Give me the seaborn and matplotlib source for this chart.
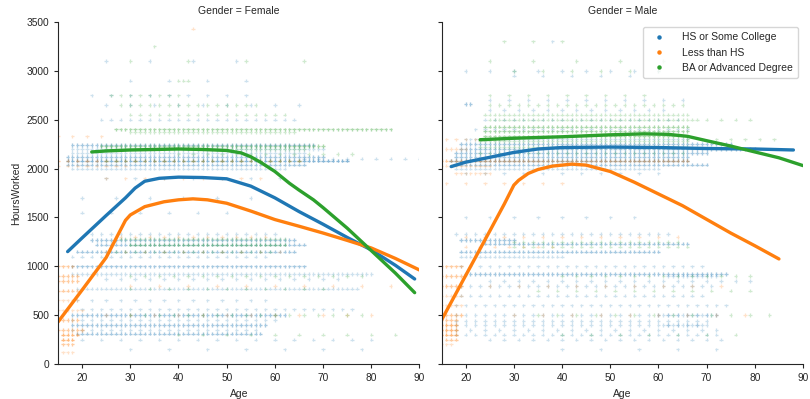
import numpy as np
import pandas as pd
import matplotlib
matplotlib.use("Agg")
import matplotlib.pyplot as plt
from matplotlib.lines import Line2D
import seaborn as sns

# ---------------- data ----------------
genders = ["Female", "Male"]
educations = ["HS or Some College", "Less than HS", "BA or Advanced Degree"]
palette = ["#1f77b4", "#ff7f0e", "#2ca02c"]

# scatter bands: (hours, first age, last age, age step, stacked copies)
f_hs_bands = [
    (3100, 25, 60, 9, 1), (2900, 30, 55, 8, 1), (2750, 22, 56, 4, 1), (2650, 25, 66, 5, 1),
    (2500, 24, 64, 2, 1), (2240, 18, 68, 1, 2), (2200, 18, 70, 1, 1), (2160, 18, 66, 1, 1),
    (2120, 17, 70, 1, 2), (2080, 17, 75, 1, 3), (2040, 17, 66, 1, 2), (2000, 18, 62, 1, 1),
    (2100, 66, 90, 3, 1), (1900, 25, 65, 6, 1), (1700, 20, 60, 7, 1), (1550, 20, 60, 6, 1),
    (1330, 22, 60, 2, 1), (1270, 22, 64, 1, 2), (1220, 23, 66, 1, 2), (1150, 19, 64, 1, 2),
    (1100, 18, 58, 2, 1), (1000, 18, 66, 1, 2), (920, 18, 80, 1, 1), (870, 25, 75, 3, 1),
    (770, 19, 77, 1, 1), (650, 19, 60, 3, 1), (560, 20, 76, 2, 1), (500, 18, 62, 1, 2),
    (450, 18, 60, 2, 1), (400, 18, 58, 1, 2), (350, 18, 56, 2, 1), (310, 19, 57, 1, 2),
    (250, 20, 80, 4, 1), (150, 30, 85, 8, 1),
]
f_lhs_bands = [
    (2330, 15, 25, 3, 1), (2080, 15, 66, 2, 2), (2030, 15, 30, 2, 1), (1900, 25, 60, 4, 1),
    (1300, 28, 60, 3, 1), (1150, 25, 62, 4, 1), (1000, 15, 18, 1, 2), (900, 15, 19, 1, 2),
    (850, 15, 19, 1, 2), (750, 15, 19, 1, 2), (650, 15, 19, 1, 1), (550, 15, 20, 1, 1),
    (450, 15, 19, 1, 2), (350, 15, 20, 1, 2), (300, 16, 19, 1, 3), (250, 16, 18, 1, 3),
    (200, 16, 18, 1, 2), (120, 16, 18, 1, 1), (500, 25, 80, 5, 1), (800, 30, 85, 6, 1),
    (3430, 43, 43, 1, 1),
]
f_ba_bands = [
    (3250, 35, 35, 1, 1), (3100, 30, 66, 12, 1), (2900, 40, 42, 1, 1), (2750, 26, 40, 2, 1),
    (2650, 28, 56, 2, 1), (2550, 30, 62, 2, 1), (2400, 27, 84, 1, 2), (2370, 30, 64, 1, 1),
    (2230, 24, 70, 1, 2), (2200, 25, 66, 1, 1), (2150, 40, 78, 3, 1), (2080, 25, 65, 2, 1),
    (1280, 28, 62, 1, 1), (1220, 30, 62, 1, 2), (1150, 27, 60, 2, 1), (900, 30, 80, 3, 1),
    (770, 30, 70, 4, 1), (500, 30, 80, 3, 1), (300, 40, 85, 5, 1),
]
m_hs_bands = [
    (3300, 38, 38, 1, 1), (3000, 20, 62, 5, 1), (2950, 30, 55, 6, 1), (2700, 25, 65, 4, 1),
    (2600, 25, 62, 3, 1), (2500, 24, 64, 2, 1), (2400, 22, 66, 2, 1), (2300, 20, 66, 1, 1),
    (2250, 19, 75, 1, 2), (2200, 19, 80, 1, 2), (2160, 18, 70, 1, 2), (2120, 18, 66, 1, 2),
    (2080, 17, 66, 1, 3), (2040, 18, 70, 1, 2), (2000, 18, 60, 1, 1), (1950, 20, 60, 4, 1),
    (2660, 20, 21, 1, 2), (1500, 20, 55, 5, 1), (1330, 18, 62, 2, 1), (1270, 19, 30, 1, 2),
    (1230, 24, 66, 1, 2), (1150, 19, 60, 1, 2), (1100, 19, 40, 1, 1), (1000, 19, 70, 2, 1),
    (920, 20, 74, 1, 2), (850, 25, 80, 3, 1), (800, 19, 72, 2, 1), (700, 19, 70, 2, 1),
    (600, 18, 75, 2, 1), (500, 18, 72, 2, 1), (440, 18, 70, 2, 1), (400, 18, 68, 2, 1),
    (350, 18, 72, 3, 1), (300, 18, 72, 2, 1), (250, 25, 75, 3, 1), (150, 40, 75, 8, 1),
    (500, 60, 72, 1, 1), (400, 61, 70, 1, 1), (900, 62, 72, 1, 1),
]
m_lhs_bands = [
    (2300, 16, 22, 2, 1), (2200, 16, 20, 1, 1), (2080, 15, 66, 1, 2), (2030, 15, 25, 1, 1),
    (1950, 18, 25, 1, 1), (1850, 16, 40, 4, 1), (1300, 20, 65, 4, 1), (1200, 20, 40, 3, 1),
    (1000, 15, 19, 1, 2), (900, 15, 19, 1, 2), (800, 15, 19, 1, 2), (700, 15, 19, 1, 1),
    (600, 15, 19, 1, 1), (500, 15, 19, 1, 2), (450, 15, 18, 1, 2), (400, 15, 18, 1, 3),
    (350, 15, 18, 1, 3), (300, 15, 18, 1, 3), (250, 16, 18, 1, 2), (200, 15, 17, 1, 1),
    (500, 30, 80, 6, 1), (800, 25, 75, 6, 1),
]
m_ba_bands = [
    (3300, 28, 45, 6, 1), (3100, 25, 70, 9, 1), (3000, 30, 60, 6, 1), (2750, 25, 60, 4, 1),
    (2650, 25, 65, 2, 1), (2550, 24, 66, 1, 1), (2500, 25, 68, 1, 1), (2430, 24, 66, 1, 2),
    (2380, 24, 66, 1, 2), (2330, 24, 66, 1, 2), (2280, 23, 66, 1, 1), (2220, 23, 66, 1, 1),
    (2160, 23, 66, 2, 1), (2500, 70, 80, 3, 1), (2300, 66, 85, 3, 1), (1250, 30, 65, 2, 1),
    (1200, 30, 66, 2, 1), (900, 40, 80, 3, 1), (750, 35, 80, 4, 1), (500, 35, 85, 4, 1),
    (300, 40, 80, 6, 1),
]

# smoothed trend lines
f_hs_age = [17, 20, 25, 29, 31, 33, 36, 40, 45, 50, 55, 60, 65, 70, 75, 80, 85, 89]
f_hs_hrs = [1150, 1290, 1520, 1700, 1800, 1870, 1900, 1912, 1908, 1895, 1820, 1700, 1560, 1430, 1295, 1167, 1010, 870]
f_lhs_age = [15, 20, 25, 29, 30, 33, 37, 40, 43, 46, 50, 55, 60, 65, 70, 75, 80, 85, 90]
f_lhs_hrs = [430, 757, 1090, 1470, 1525, 1610, 1660, 1680, 1690, 1680, 1645, 1565, 1478, 1410, 1340, 1265, 1187, 1080, 962]
f_ba_age = [22, 25, 30, 35, 40, 45, 50, 53, 55, 57, 60, 63, 65, 68, 70, 75, 80, 85, 89]
f_ba_hrs = [2170, 2180, 2190, 2195, 2200, 2195, 2185, 2160, 2120, 2065, 1970, 1850, 1780, 1680, 1600, 1390, 1160, 930, 730]
m_hs_age = [17, 20, 25, 30, 35, 40, 50, 60, 70, 80, 88]
m_hs_hrs = [2020, 2065, 2115, 2165, 2200, 2215, 2220, 2215, 2205, 2200, 2190]
m_lhs_age = [15, 20, 25, 28, 30, 31, 33, 35, 38, 42, 45, 50, 55, 60, 65, 70, 75, 80, 85]
m_lhs_hrs = [450, 905, 1360, 1635, 1830, 1880, 1950, 1990, 2025, 2045, 2035, 1970, 1860, 1740, 1620, 1480, 1340, 1210, 1075]
m_ba_age = [23, 30, 40, 50, 57, 62, 66, 70, 75, 80, 85, 90]
m_ba_hrs = [2295, 2310, 2325, 2345, 2355, 2350, 2330, 2285, 2230, 2170, 2110, 2030]

x_ticks = [20, 30, 40, 50, 60, 70, 80, 90]
y_ticks = [0, 500, 1000, 1500, 2000, 2500, 3000, 3500]

# ---------------- tables ----------------
band_sets = {
    ("Female", educations[0]): f_hs_bands, ("Female", educations[1]): f_lhs_bands,
    ("Female", educations[2]): f_ba_bands, ("Male", educations[0]): m_hs_bands,
    ("Male", educations[1]): m_lhs_bands, ("Male", educations[2]): m_ba_bands,
}
rows = []
for edu in educations:
    for g in genders:
        for hrs, a0, a1, step, reps in band_sets[(g, edu)]:
            for age in range(a0, a1 + 1, step):
                for _ in range(reps):
                    rows.append((age, hrs, edu, g))
pts = pd.DataFrame(rows, columns=["Age", "HoursWorked", "Education", "Gender"])

line_sets = {
    ("Female", educations[0]): (f_hs_age, f_hs_hrs), ("Female", educations[1]): (f_lhs_age, f_lhs_hrs),
    ("Female", educations[2]): (f_ba_age, f_ba_hrs), ("Male", educations[0]): (m_hs_age, m_hs_hrs),
    ("Male", educations[1]): (m_lhs_age, m_lhs_hrs), ("Male", educations[2]): (m_ba_age, m_ba_hrs),
}
lrows = []
for (g, edu), (ages, hrs) in line_sets.items():
    for a, h in zip(ages, hrs):
        lrows.append((a, h, edu, g))
lines = pd.DataFrame(lrows, columns=["Age", "HoursWorked", "Education", "Gender"])

# ---------------- plot ----------------
sns.set_style("ticks")
plt.rcParams["font.family"] = ["Liberation Sans", "DejaVu Sans"]
plt.rcParams["font.size"] = 7.3

g = sns.FacetGrid(pts, col="Gender", col_order=genders, height=3.99, aspect=1.0,
                  xlim=(15, 90), ylim=(0, 3500))
g.map_dataframe(sns.scatterplot, x="Age", y="HoursWorked", hue="Education",
                hue_order=educations, palette=palette, marker="+", s=6,
                linewidth=0.9, alpha=0.22, legend=False)
for ax, gen in zip(g.axes.flat, genders):
    sub = lines[lines["Gender"] == gen]
    sns.lineplot(data=sub, x="Age", y="HoursWorked", hue="Education", hue_order=educations,
                 palette=palette, linewidth=2.4, legend=False, estimator=None, sort=True, ax=ax)
    ax.set_xticks(x_ticks)
    ax.set_yticks(y_ticks)
    ax.tick_params(labelsize=7.3, length=3)
    ax.set_xlabel("Age", fontsize=7.5)
g.axes.flat[0].set_ylabel("HoursWorked", fontsize=7.5)
g.axes.flat[1].set_ylabel("")
g.set_titles("Gender = {col_name}", size=7.5)

handles = [Line2D([], [], marker="o", ls="", color=c, markersize=2.2) for c in palette]
g.axes.flat[1].legend(handles, educations, loc="upper right", fontsize=7.5,
                      frameon=True, handletextpad=1.2, borderpad=0.5)

fig = g.figure
fig.set_size_inches(8.1, 3.99)
fig.subplots_adjust(left=0.0716, right=0.9914, bottom=0.0877, top=0.945, wspace=0.061)
fig.savefig("out.png", dpi=100)
